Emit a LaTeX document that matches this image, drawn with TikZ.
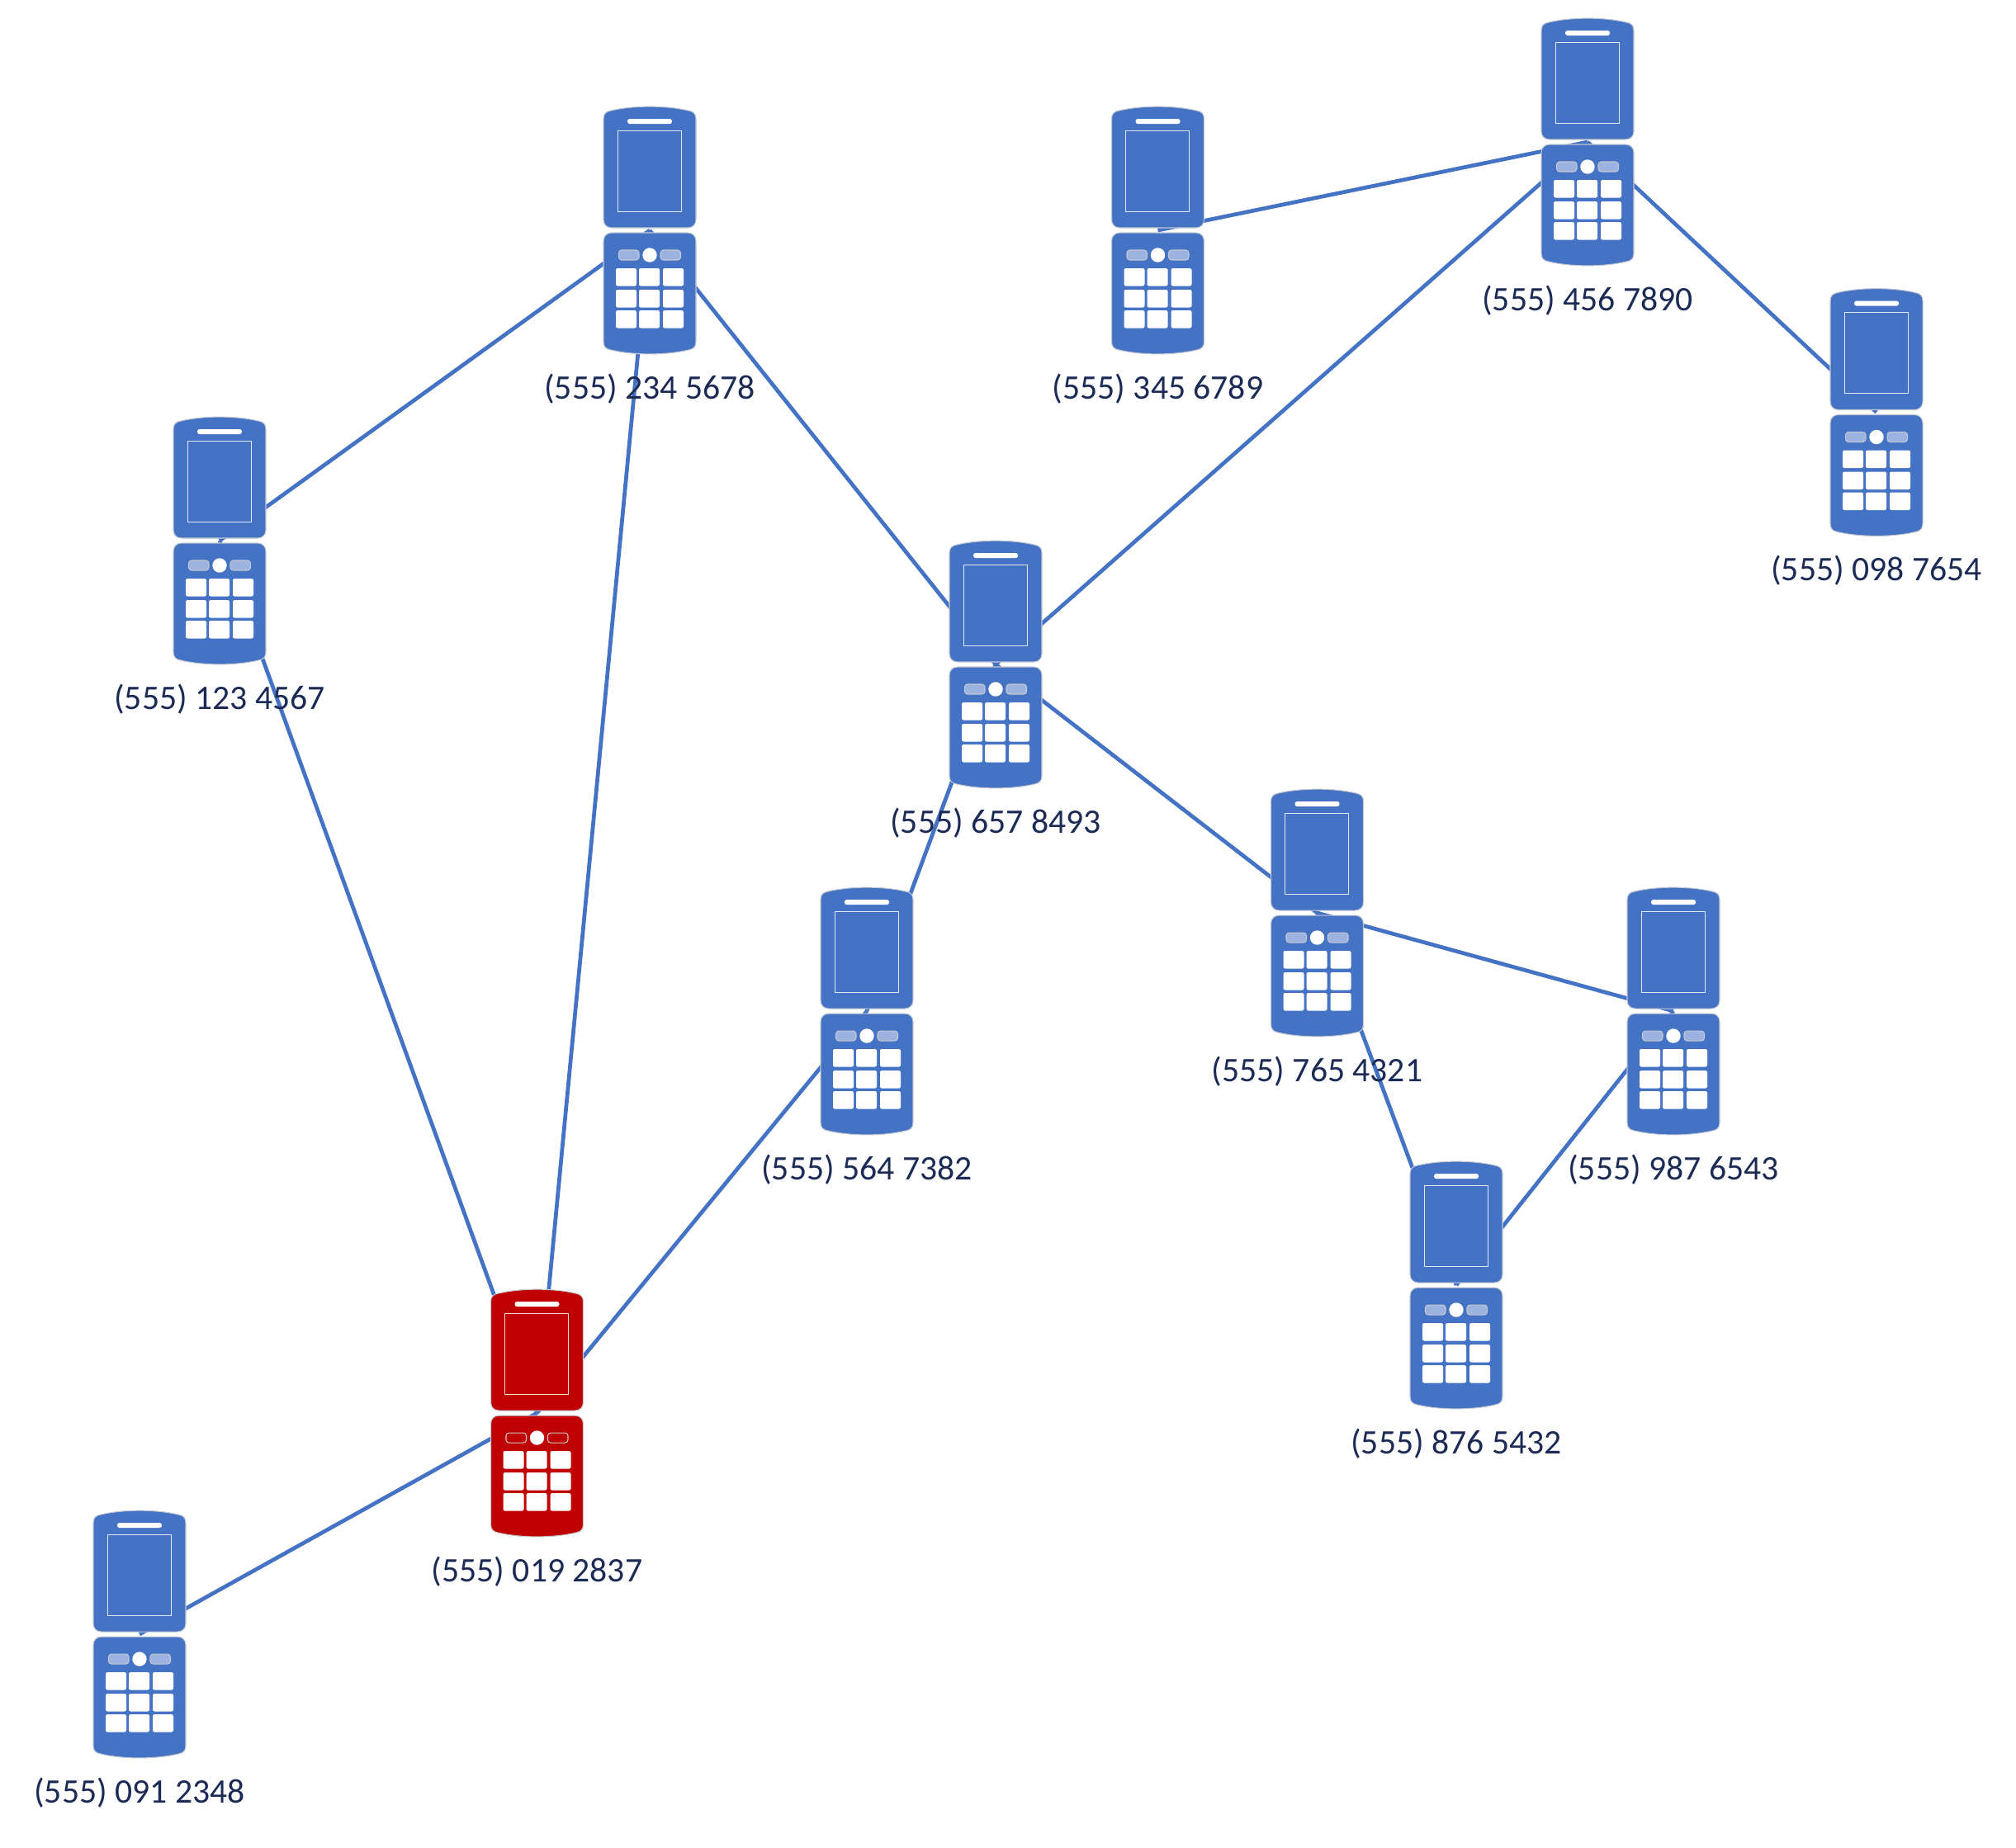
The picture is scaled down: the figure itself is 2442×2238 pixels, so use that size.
\documentclass[tikz,border=0pt]{standalone}
\usepackage{fontspec}
\setmainfont{Carlito}
\definecolor{phoneblue}{HTML}{4472C4}
\definecolor{phonered}{HTML}{C00000}
\definecolor{softblue}{HTML}{9CB2E0}
\definecolor{numtext}{HTML}{1C2B55}
\definecolor{phoneedge}{HTML}{C4C8D0}
\tikzset{
  link/.style={phoneblue,line width=1.35pt},
  numlabel/.style={numtext,anchor=base,yshift=-2.04cm,inner sep=0pt,font=\fontsize{11.85}{14}\selectfont},
  pics/phone/.style 2 args={code={
    % upper half
    \draw[fill=#1,draw=phoneedge,line width=.3pt] (-56,-13) -- (-56,-135) .. controls (-56,-141) and (-53,-144) .. (-47,-145) .. controls (-20,-151.5) and (20,-151.5) .. (47,-145) .. controls (53,-144) and (56,-141) .. (56,-135) -- (56,-13) .. controls (56,-7) and (52,-3) .. (46,-3) -- (-46,-3) .. controls (-52,-3) and (-56,-7) .. (-56,-13) -- cycle;
    \fill[white,rounded corners=.75pt] (-27,-135) rectangle (27,-129);
    \draw[white!85!#1,line width=.25pt] (-39,-121) rectangle (38,-23);
    % lower half
    \draw[fill=#1,draw=phoneedge,line width=.3pt] (-56,13) -- (-56,135) .. controls (-56,141) and (-53,144) .. (-47,145) .. controls (-20,151.5) and (20,151.5) .. (47,145) .. controls (53,144) and (56,141) .. (56,135) -- (56,13) .. controls (56,7) and (52,3) .. (46,3) -- (-46,3) .. controls (-52,3) and (-56,7) .. (-56,13) -- cycle;
    \fill[white] (0,30) circle[radius=8.7];
    \draw[fill=#2,draw=phoneedge,line width=.3pt,rounded corners=1pt] (-37.5,24) rectangle (-13,36);
    \draw[fill=#2,draw=phoneedge,line width=.3pt,rounded corners=1pt] (13,24) rectangle (37.5,36);
    \foreach \kx in {-41,-13,16} \foreach \ky in {46,72,97}
      \fill[white,rounded corners=.6pt] (\kx,\ky) rectangle ++(25,21.5);
  }}
}
\begin{document}
\begin{tikzpicture}[x=.01cm,y=-.01cm]
\useasboundingbox (0,0) rectangle (2442,2238);
\coordinate (p123) at (266,655); \coordinate (p234) at (787,279); \coordinate (p345) at (1402.5,279); \coordinate (p456) at (1923,172);
\coordinate (p098) at (2273,499.5); \coordinate (p657) at (1206,805); \coordinate (p564) at (1050,1225); \coordinate (p765) at (1595.5,1106);
\coordinate (p987) at (2027,1225); \coordinate (p876) at (1764,1557); \coordinate (p019) at (650.5,1712); \coordinate (p091) at (169,1980);
\foreach \a/\b in {p123/p234,p234/p657,p234/p019,p123/p019,p345/p456,p456/p657,p456/p098,p657/p564,p657/p765,p564/p019,p019/p091,p765/p987,p765/p876,p987/p876}
  \draw[link] (\a) -- (\b);
\foreach \p in {p123,p234,p345,p456,p098,p657,p564,p765,p987,p876,p091}
  \pic at (\p) {phone={phoneblue}{softblue}};
\pic at (p019) {phone={phonered}{phonered}};
\foreach \p/\t in {p123/123 4567,p234/234 5678,p345/345 6789,p456/456 7890,p098/098 7654,p657/657 8493,p564/564 7382,p765/765 4321,p987/987 6543,p876/876 5432,p019/019 2837,p091/091 2348}
  \node[numlabel] (n\p) at (\p) {(555) \t};
\end{tikzpicture}
\end{document}
